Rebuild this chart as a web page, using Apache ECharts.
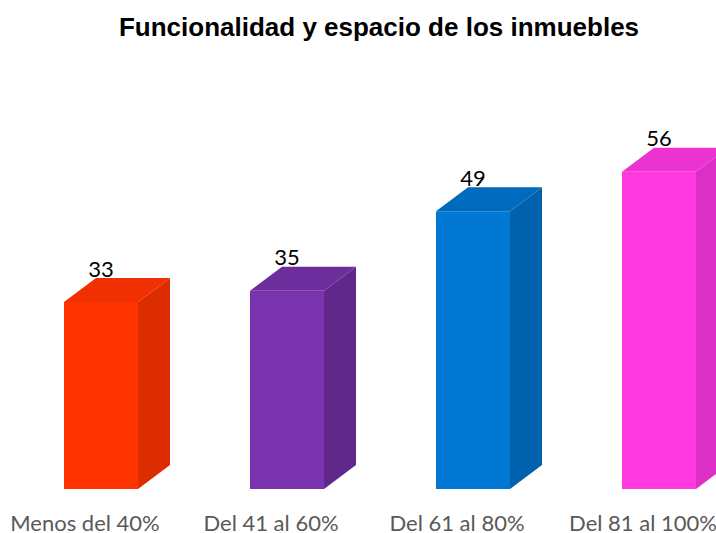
<!DOCTYPE html>
<html>
<head>
<meta charset="utf-8">
<script src="https://cdn.jsdelivr.net/npm/echarts@6/dist/echarts.min.js"></script>
<style>
  html, body { margin: 0; padding: 0; background: #fff; overflow: hidden; }
  .wrap { width: 716px; height: 533px; overflow: hidden; position: relative; }
  #chart { width: 760px; height: 533px; position: absolute; left: -8px; top: 0; }
</style>
</head>
<body>
<div class="wrap"><div id="chart"></div></div>
<script>
var categories = ['Menos del 40%', 'Del 41 al 60%', 'Del 61 al 80%', 'Del 81 al 100%']
var values = [33, 35, 49, 56]
// front, side, top for each bar
var frontColors = ['#ff3300', '#7a33ae', '#0078d4', '#ff38e0']
var sideColors = ['#dc2c00', '#5f288a', '#0062ad', '#dc2fc4']
var topColors = ['#f03000', '#6d2e9d', '#006abd', '#ec33d2']

var myChart = echarts.init(document.getElementById('chart'), null, { renderer: 'svg' })

//3D柱子
function renderBox(params, api) {
  var i = api.value(0)
  var top = api.coord([i, api.value(1)])
  var base = api.coord([i, 0])
  var x0 = top[0] - 21
  var x1 = top[0] + 53
  var dx = 32
  var dy = -24
  var yT = top[1]
  var yB = base[1]
  return {
    type: 'group',
    children: [
      {
        type: 'polygon',
        shape: { points: [[x1, yT], [x1 + dx, yT + dy], [x1 + dx, yB + dy], [x1, yB]] },
        style: { fill: sideColors[i] }
      },
      {
        type: 'polygon',
        shape: { points: [[x0, yT], [x0 + dx, yT + dy], [x1 + dx, yT + dy], [x1, yT]] },
        style: { fill: topColors[i] }
      },
      {
        type: 'rect',
        shape: { x: x0, y: yT, width: x1 - x0, height: yB - yT },
        style: { fill: frontColors[i] }
      },
      {
        type: 'text',
        x: (x0 + x1) / 2,
        y: yT + dy - 10,
        style: {
          text: String(api.value(1)),
          fontFamily: 'Lato',
          fontSize: 22,
          fill: '#000',
          align: 'center',
          verticalAlign: 'middle'
        }
      }
    ]
  }
}

var option = {
  title: {
    text: 'Funcionalidad y espacio de los inmuebles',
    left: 382,
    textAlign: 'center',
    top: 9,
    textStyle: {
      fontFamily: 'Liberation Sans',
      fontSize: 26,
      fontWeight: 'bold',
      color: '#000'
    }
  },
  grid: { left: 0, right: 16, top: 149, bottom: 40 },
  xAxis: {
    type: 'category',
    data: categories,
    axisLine: { show: false },
    axisTick: { show: false },
    axisLabel: {
      margin: 22,
      fontFamily: 'Lato',
      fontSize: 22,
      color: '#595959',
      interval: 0
    }
  },
  yAxis: {
    type: 'value',
    min: 0,
    max: 60,
    show: false
  },
  series: [
    {
      type: 'custom',
      renderItem: renderBox,
      data: values.map(function (v, i) { return [i, v] }),
      encode: { x: 0, y: 1 },
      clip: false
    }
  ]
}
myChart.setOption(option)
</script>
</body>
</html>
